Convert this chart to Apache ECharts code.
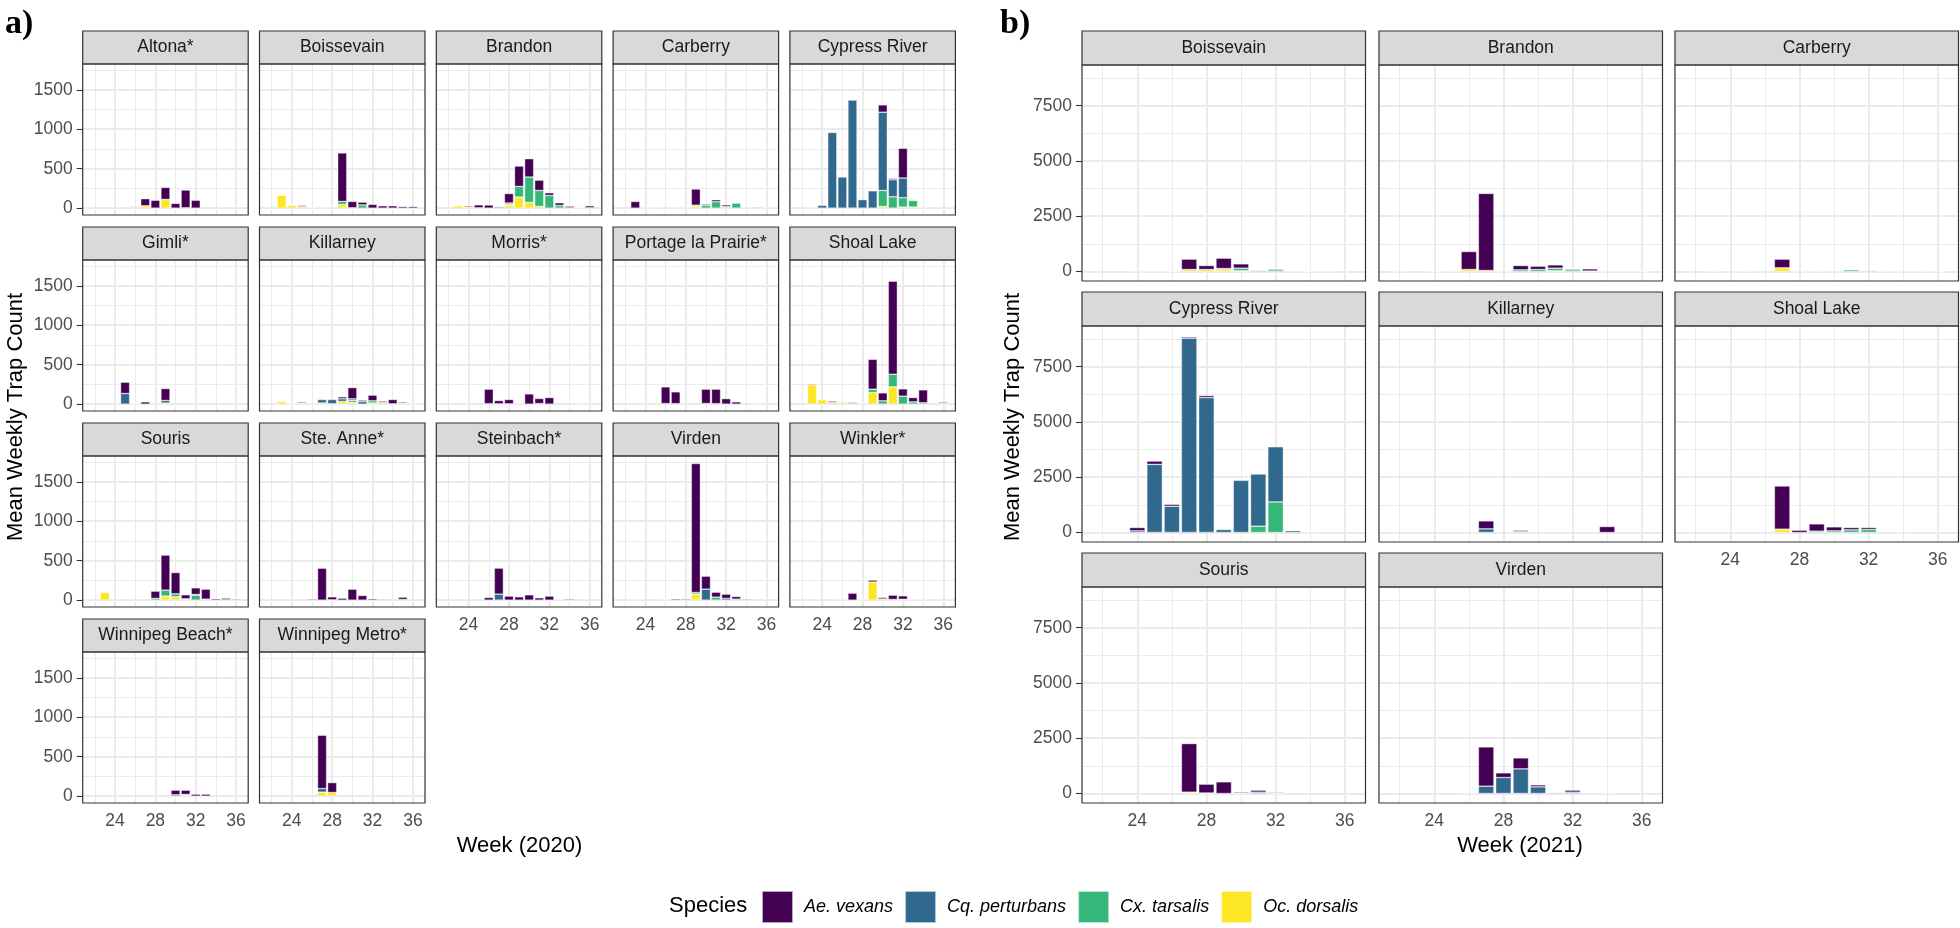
<!DOCTYPE html>
<html><head><meta charset="utf-8">
<script src="https://cdn.jsdelivr.net/npm/echarts@6/dist/echarts.min.js"></script>
<style>html,body{margin:0;padding:0;background:#fff}#c{width:1960px;height:928px}</style>
</head><body><div id="c"></div>
<script>
// ---------- data ----------
const weeks = [22,23,24,25,26,27,28,29,30,31,32,33,34,35,36];
const speciesNames = ['Ae. vexans','Cq. perturbans','Cx. tarsalis','Oc. dorsalis'];
const speciesColors = ['#440154','#31688E','#35B779','#FDE725'];
const xTicks = [24,28,32,36];
const xMinor = [22,26,30,34];
const yTicks2020 = [0,500,1000,1500];
const yMinor2020 = [250,750,1250,1750];
const yTicks2021 = [0,2500,5000,7500];
const yMinor2021 = [1250,3750,6250,8750];

// each facet: [Ae. vexans, Cq. perturbans, Cx. tarsalis, Oc. dorsalis], weeks 22..36
const altona2020 = [
  [0,0,0,0,10,90,100,153,60,225,100,0,0,0,0],
  [0,0,0,0,0,0,0,0,0,0,0,0,0,0,0],
  [0,0,0,0,0,0,0,0,0,0,0,0,0,0,0],
  [0,0,0,0,10,30,0,110,0,5,0,0,0,0,0]];
const boissevain2020 = [
  [0,5,7,15,8,6,0,615,80,36,48,30,30,20,20],
  [0,0,0,0,0,0,0,0,0,0,0,0,0,0,0],
  [0,0,0,0,0,0,0,40,5,40,0,0,0,0,0],
  [0,165,35,20,8,0,0,45,0,0,0,0,0,0,0]];
const brandon2020 = [
  [0,0,15,38,40,0,120,259,233,131,34,34,20,8,25],
  [0,0,0,0,0,15,15,0,0,0,0,0,5,0,0],
  [0,0,0,0,0,0,15,135,322,203,161,34,0,0,0],
  [17,30,15,4,0,0,35,140,72,21,0,0,0,8,5]];
const carberry2020 = [
  [0,85,8,8,0,0,0,205,0,25,21,0,0,0,0],
  [0,0,0,0,0,6,0,0,17,0,12,0,0,0,0],
  [0,0,0,0,0,0,6,15,38,81,9,64,6,12,0],
  [0,0,0,0,0,0,0,22,0,0,0,0,0,0,6]];
const cypress2020 = [
  [0,0,4,7,0,8,0,0,93,17,377,0,0,0,0],
  [0,0,38,960,395,1370,108,220,992,216,250,8,0,0,0],
  [0,0,0,0,0,0,0,0,203,144,119,85,8,0,0],
  [0,8,0,0,0,0,0,0,21,0,13,13,0,0,0]];
const gimli2020 = [
  [0,0,0,143,8,29,0,152,0,0,0,0,0,0,0],
  [0,0,0,135,8,0,0,33,0,0,0,0,0,0,0],
  [0,0,0,0,0,0,0,0,0,0,0,0,0,0,0],
  [0,0,0,0,0,0,0,13,0,0,0,0,0,0,0]];
const killarney2020 = [
  [0,0,0,15,6,0,0,25,143,17,72,17,55,15,6],
  [0,0,0,0,0,45,55,34,21,34,0,0,0,0,0],
  [0,0,0,0,0,0,0,0,25,0,29,0,0,0,0],
  [0,34,6,10,0,14,4,34,21,0,13,21,4,14,0]];
const morris2020 = [
  [0,0,0,0,185,42,55,6,130,65,84,0,0,7,0],
  [0,0,0,0,0,0,0,0,0,0,0,0,0,0,0],
  [0,0,0,0,0,0,0,0,0,0,0,0,0,0,0],
  [0,0,0,0,5,4,4,0,0,7,0,0,0,10,0]];
const portage2020 = [
  [0,0,0,0,212,150,5,0,182,184,70,29,0,6,0],
  [0,0,0,0,0,6,12,0,8,0,0,0,0,0,0],
  [0,0,0,0,0,0,0,0,0,0,0,0,0,0,0],
  [0,0,0,0,7,0,0,0,0,6,0,0,0,0,0]];
const shoal2020 = [
  [0,12,0,17,10,12,8,379,101,1179,93,55,164,5,15],
  [0,0,0,0,0,13,9,0,0,0,0,0,0,12,0],
  [0,0,0,0,0,0,0,42,42,160,101,29,17,0,0],
  [0,245,55,21,15,0,0,147,0,219,0,0,0,0,10]];
const souris2020 = [
  [0,0,0,0,0,0,93,444,270,51,85,127,17,20,12],
  [0,0,0,0,0,9,0,0,0,0,8,0,0,5,0],
  [0,0,0,0,0,8,21,76,38,10,63,12,0,0,0],
  [0,97,17,0,0,0,0,51,42,7,0,0,0,0,0]];
const steanne2020 = [
  [0,0,0,0,13,405,38,25,139,59,17,10,0,30,0],
  [0,0,0,0,0,0,4,0,0,0,0,0,0,0,0],
  [0,0,0,0,0,0,0,0,0,0,0,0,0,0,0],
  [0,0,0,0,0,0,0,0,0,0,0,0,0,8,0]];
const steinbach2020 = [
  [0,0,0,0,34,330,51,42,68,30,51,8,13,0,0],
  [0,0,0,0,0,76,0,0,0,0,0,0,0,0,0],
  [0,0,0,0,0,0,0,0,0,0,0,0,0,0,0],
  [0,0,0,0,0,0,0,0,0,0,0,0,0,0,0]];
const virden2020 = [
  [0,8,0,0,8,15,0,1635,165,63,55,34,12,0,0],
  [0,0,0,0,0,0,15,0,139,0,21,12,0,0,0],
  [0,0,0,0,0,0,0,21,0,38,0,0,0,0,0],
  [0,0,0,0,0,0,0,76,0,0,0,0,0,0,0]];
const winkler2020 = [
  [0,0,0,0,8,89,8,25,20,55,45,8,8,0,0],
  [0,0,0,0,0,0,0,0,0,0,0,0,0,0,0],
  [0,0,0,0,0,0,0,0,0,0,0,0,0,0,0],
  [0,0,0,0,0,0,0,229,14,8,10,0,0,0,0]];
const wpgbeach2020 = [
  [0,0,0,0,0,0,0,0,59,55,25,25,0,0,0],
  [0,0,0,0,0,0,0,0,17,8,0,0,0,0,0],
  [0,0,0,0,0,0,0,0,0,0,0,0,0,0,0],
  [0,0,0,0,0,0,0,0,0,13,0,0,0,0,0]];
const wpgmetro2020 = [
  [0,0,0,0,0,676,126,0,0,0,0,0,0,0,0],
  [0,0,0,0,0,46,0,0,0,0,0,0,0,0,0],
  [0,0,0,0,0,0,0,0,0,0,0,0,0,0,0],
  [0,0,0,0,0,50,46,0,0,0,0,0,0,0,0]];

const boissevain2021 = [
  [0,0,0,0,20,470,180,468,196,5,45,0,15,0,0],
  [0,0,0,0,0,0,0,0,0,0,0,0,20,0,0],
  [0,0,0,30,0,0,0,45,120,55,75,30,0,25,0],
  [0,0,30,0,20,90,90,90,30,0,0,0,0,0,0]];
const brandon2021 = [
  [0,0,0,20,815,3486,0,196,150,150,45,100,0,0,25],
  [0,0,0,0,0,0,0,0,0,0,0,0,0,0,0],
  [20,0,0,0,0,0,0,75,90,120,75,20,25,25,0],
  [0,0,20,15,90,45,25,0,0,30,0,0,0,0,0]];
const carberry2021 = [
  [0,0,0,0,0,392,0,0,0,0,0,0,0,0,0],
  [0,0,0,0,0,0,0,0,30,0,0,0,0,0,0],
  [0,0,0,20,0,0,0,20,0,75,40,20,20,20,20],
  [0,20,0,0,0,166,20,0,0,0,0,0,0,0,0]];
const cypress2021 = [
  [0,0,150,150,90,60,90,0,0,0,0,25,0,0,0],
  [0,0,75,3081,1187,8793,6102,135,2360,2360,2495,80,0,0,0],
  [0,0,0,0,0,0,0,0,0,285,1383,0,30,0,0],
  [0,0,0,0,0,0,0,0,0,0,0,0,0,0,0]];
const killarney2021 = [
  [0,0,0,0,0,361,0,0,0,0,0,0,270,0,0],
  [0,0,0,0,0,165,0,75,0,0,0,0,0,0,0],
  [0,0,0,0,0,0,0,30,0,0,0,0,0,0,0],
  [0,0,0,0,0,0,0,0,0,0,0,0,0,0,0]];
const shoal2021 = [
  [0,0,0,0,0,1954,105,330,180,105,90,0,0,0,0],
  [0,0,0,0,0,0,0,0,0,0,0,0,0,0,0],
  [0,0,0,0,0,0,0,60,75,120,135,0,30,0,0],
  [0,0,0,0,0,150,0,0,0,0,0,0,0,0,0]];
const souris2021 = [
  [0,0,0,0,0,2199,400,527,50,90,40,0,0,0,0],
  [0,0,0,0,0,0,0,0,10,60,20,0,0,0,0],
  [0,0,0,0,0,0,0,0,0,0,0,0,0,0,0],
  [0,0,0,0,0,60,22,0,0,0,0,0,0,0,0]];
const virden2021 = [
  [0,0,0,0,25,1777,211,497,90,20,90,0,25,0,0],
  [0,0,0,0,0,331,723,1114,301,40,60,30,0,0,0],
  [0,0,0,0,0,0,0,0,0,0,0,0,0,0,0],
  [0,0,0,0,0,0,0,0,0,0,0,0,0,0,0]];

const facets2020 = [
  ['Altona*', altona2020], ['Boissevain', boissevain2020], ['Brandon', brandon2020],
  ['Carberry', carberry2020], ['Cypress River', cypress2020],
  ['Gimli*', gimli2020], ['Killarney', killarney2020], ['Morris*', morris2020],
  ['Portage la Prairie*', portage2020], ['Shoal Lake', shoal2020],
  ['Souris', souris2020], ['Ste. Anne*', steanne2020], ['Steinbach*', steinbach2020],
  ['Virden', virden2020], ['Winkler*', winkler2020],
  ['Winnipeg Beach*', wpgbeach2020], ['Winnipeg Metro*', wpgmetro2020]];
const facets2021 = [
  ['Boissevain', boissevain2021], ['Brandon', brandon2021], ['Carberry', carberry2021],
  ['Cypress River', cypress2021], ['Killarney', killarney2021], ['Shoal Lake', shoal2021],
  ['Souris', souris2021], ['Virden', virden2021]];

// ---------- layout ----------
const FONT = '"Liberation Sans", Arial, sans-serif';
const chart = echarts.init(document.getElementById('c'));
const grids = [], xAxes = [], yAxes = [], series = [], graphics = [];

function addFacet(name, vals, left, stripTop, w, stripH, h, yMin, yMax, yMaj, yMinr, showY, showX) {
  const gi = grids.length;
  const top = stripTop + stripH;
  grids.push({left: left, top: top, width: w, height: h});
  xAxes.push({
    type: 'value', gridIndex: gi, min: 20.8, max: 37.2,
    axisLine: {show: false}, splitLine: {show: false},
    axisTick: {show: showX, customValues: xTicks, length: 6, lineStyle: {color: '#333333', width: 1.1}},
    axisLabel: {show: showX, customValues: xTicks, margin: 9, color: '#4d4d4d', fontSize: 17.5, fontFamily: FONT,
      formatter: v => String(v)}
  });
  yAxes.push({
    type: 'value', gridIndex: gi, min: yMin, max: yMax,
    axisLine: {show: false}, splitLine: {show: false},
    axisTick: {show: showY, customValues: yMaj, length: 6, lineStyle: {color: '#333333', width: 1.1}},
    axisLabel: {show: showY, customValues: yMaj, margin: 10, color: '#4d4d4d', fontSize: 17.5, fontFamily: FONT,
      formatter: v => String(v)}
  });
  const barW = w / 16.4 * 0.9;
  const gl = [];
  xTicks.forEach(v => gl.push({xAxis: v, lineStyle: {width: 2}}));
  xMinor.forEach(v => gl.push({xAxis: v, lineStyle: {width: 1}}));
  yMaj.forEach(v => gl.push({yAxis: v, lineStyle: {width: 2}}));
  yMinr.forEach(v => gl.push({yAxis: v, lineStyle: {width: 1}}));
  [3, 2, 1, 0].forEach((si, k) => {
    const s = {
      type: 'bar', name: speciesNames[si], xAxisIndex: gi, yAxisIndex: gi, stack: 'f' + gi,
      barWidth: barW, silent: true,
      // value first so that the stacked dimension is the count, week second
      dimensions: ['count', 'week'],
      encode: {x: 1, y: 0},
      itemStyle: {color: speciesColors[si], borderColor: 'rgba(255,255,255,0.65)', borderWidth: 0.6},
      data: weeks.map((wk, j) => [vals[si][j] ? vals[si][j] : null, wk])
    };
    if (k === 0) {
      s.markLine = {silent: true, symbol: 'none', z: 1, label: {show: false},
        lineStyle: {color: '#ebebeb', type: 'solid'}, data: gl};
    }
    series.push(s);
  });
  graphics.push({type: 'rect', z: 100, shape: {x: left, y: stripTop, width: w, height: stripH},
    style: {fill: '#d9d9d9', stroke: '#333333', lineWidth: 1.2}});
  graphics.push({type: 'text', z: 101, x: left + w / 2, y: stripTop + stripH / 2,
    style: {text: name, fill: '#1a1a1a', font: '17.5px ' + FONT, align: 'center', verticalAlign: 'middle',
      textAlign: 'center', textVerticalAlign: 'middle'}});
  graphics.push({type: 'rect', z: 100, shape: {x: left, y: top, width: w, height: h},
    style: {fill: 'none', stroke: '#333333', lineWidth: 1.2}});
}

// panel a (2020)
const colA = 82.7, pitchA = 176.8, wA = 165.5;
const stripTopsA = [31, 227, 423, 619];
const xLabA = [12, 13, 14, 15, 16];
facets2020.forEach((f, i) => {
  const c = i % 5, r = Math.floor(i / 5);
  addFacet(f[0], f[1], colA + c * pitchA, stripTopsA[r], wA, 33, 151,
    -87, 1827, yTicks2020, yMinor2020, c === 0, xLabA.includes(i));
});
// panel b (2021)
const colsB = [1082, 1379, 1675], wB = 283.5;
const stripTopsB = [31, 292, 553];
const xLabB = [5, 6, 7];
facets2021.forEach((f, i) => {
  const c = i % 3, r = Math.floor(i / 3);
  addFacet(f[0], f[1], colsB[c], stripTopsB[r], wB, 34, 216,
    -430, 9340, yTicks2021, yMinor2021, c === 0, xLabB.includes(i));
});

function txt(t, x, y, size, opts) {
  const o = Object.assign({type: 'text', z: 101, x: x, y: y,
    style: {text: t, fill: '#000', font: size + 'px ' + FONT, align: 'center', verticalAlign: 'middle',
      textAlign: 'center', textVerticalAlign: 'middle'}}, opts || {});
  graphics.push(o);
}
txt('Mean Weekly Trap Count', 16, 417, 22, {rotation: Math.PI / 2});
txt('Mean Weekly Trap Count', 1013, 417, 22, {rotation: Math.PI / 2});
txt('Week (2020)', 519.5, 846, 22);
txt('Week (2021)', 1520, 846, 22);
graphics.push({type: 'text', z: 101, x: 5, y: 24,
  style: {text: 'a)', fill: '#000', font: 'bold 34px "Liberation Serif", "Times New Roman", serif',
    align: 'left', verticalAlign: 'middle', textAlign: 'left', textVerticalAlign: 'middle'}});
graphics.push({type: 'text', z: 101, x: 1000, y: 24,
  style: {text: 'b)', fill: '#000', font: 'bold 34px "Liberation Serif", "Times New Roman", serif',
    align: 'left', verticalAlign: 'middle', textAlign: 'left', textVerticalAlign: 'middle'}});
graphics.push({type: 'text', z: 101, x: 669, y: 906,
  style: {text: 'Species', fill: '#000', font: '22px ' + FONT,
    align: 'left', verticalAlign: 'middle', textAlign: 'left', textVerticalAlign: 'middle'}});

chart.setOption({
  animation: false,
  grid: grids, xAxis: xAxes, yAxis: yAxes, series: series,
  legend: {
    data: speciesNames, left: 761, top: 890, padding: 0, itemWidth: 31, itemHeight: 32, itemGap: 11,
    icon: 'rect', selectedMode: false,
    textStyle: {fontSize: 18, fontStyle: 'italic', fontFamily: FONT, color: '#000', padding: [0, 0, 0, 6]}
  },
  graphic: {elements: graphics}
});
</script></body></html>
